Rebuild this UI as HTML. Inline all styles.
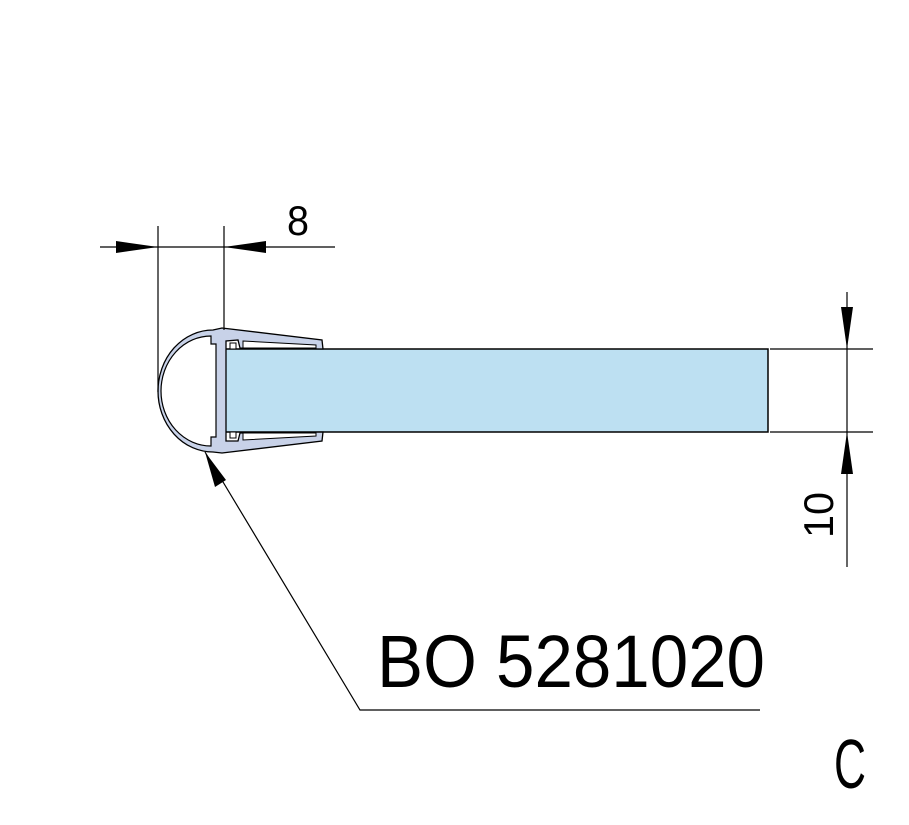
<!DOCTYPE html>
<html><head><style>body{margin:0;background:#fff}</style></head><body>
<svg width="909" height="820" viewBox="0 0 909 820" xmlns="http://www.w3.org/2000/svg">
<rect x="224" y="349" width="544" height="83" fill="#bde0f2" stroke="#000" stroke-width="1.5"/>
<path d="M213,330 L222,328 L322,340 L323,349 L240,348 L238,340 L226,341 L226,349 L226,432 L226,441 L238,441 L240,433 L323,432 L322,441 L222,453 L213,452 A55,61 0 0 1 213,330 Z" fill="#c8d2e8" stroke="#000" stroke-width="1.3"/>
<path d="M211,336 L211,344 L216,344 L216,437 L211,437 L211,446 A50,55 0 0 1 211,336 Z" fill="#fff" stroke="#000" stroke-width="1.2"/>
<path d="M230,343 L236,343 L236,349 L230,349 Z M230,432 L236,432 L236,438 L230,438 Z" fill="#fff" stroke="#000" stroke-width="1"/>
<path d="M243,341 L316,345 L316,348 L243,348 Z M243,433 L316,433 L316,436 L243,440 Z" fill="#fff" stroke="#000" stroke-width="1"/>
<g stroke="#000" stroke-width="1.2" fill="none">
<line x1="158" y1="226" x2="158" y2="392"/>
<line x1="224" y1="226" x2="224" y2="330"/>
<line x1="100" y1="247" x2="335" y2="247"/>
<line x1="770" y1="349" x2="873" y2="349"/>
<line x1="770" y1="432" x2="873" y2="432"/>
<line x1="847" y1="292" x2="847" y2="567"/>
<polyline points="205,452 360,710 760,710"/>
</g>
<g fill="#000">
<polygon points="158,247 116,241 116,253"/>
<polygon points="224,247 266,241 266,253"/>
<polygon points="847,349 841,307 853,307"/>
<polygon points="847,432 841,474 853,474"/>
<polygon points="205,452 215,487 226,480"/>
</g>
<g font-family="Liberation Sans, sans-serif" fill="#000">
<text x="298" y="235" font-size="42" text-anchor="middle" textLength="22" lengthAdjust="spacingAndGlyphs">8</text>
<text x="0" y="0" font-size="42" text-anchor="middle" textLength="46" lengthAdjust="spacingAndGlyphs" transform="translate(833,515) rotate(-90)">10</text>
<text x="377" y="687" font-size="74" textLength="388" lengthAdjust="spacingAndGlyphs">BO 5281020</text>
<text x="834" y="788" font-size="70" textLength="32" lengthAdjust="spacingAndGlyphs">C</text>
</g>
</svg>
</body></html>
